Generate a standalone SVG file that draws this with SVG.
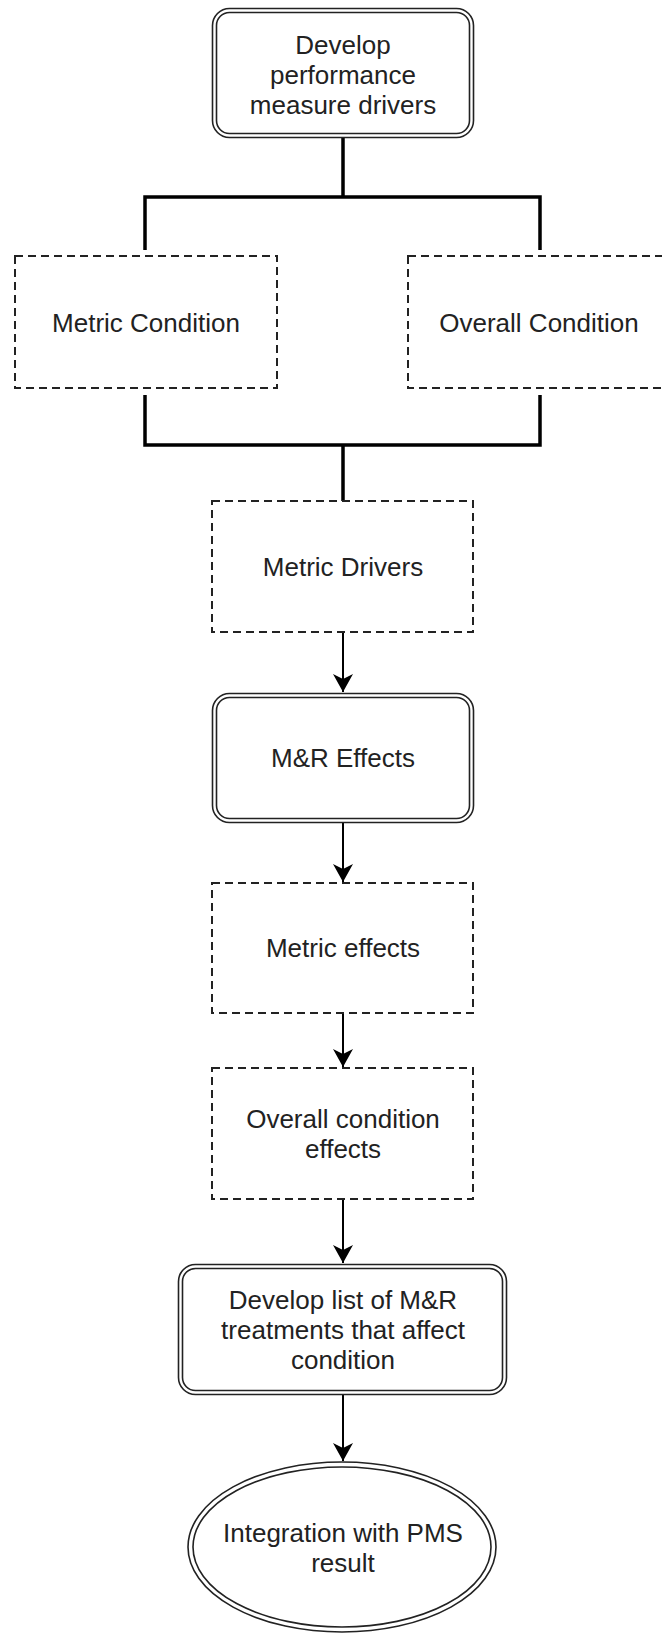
<svg xmlns="http://www.w3.org/2000/svg" width="662" height="1634" viewBox="0 0 662 1634">
<style>
.bg{fill:#ffffff}
.dash{fill:#ffffff;stroke:#222;stroke-width:2;stroke-dasharray:8 5}
.dbl{fill:#ffffff;stroke:#222;stroke-width:1.6}
.dbli{fill:none;stroke:#222;stroke-width:1.6}
.txt{font-family:"Liberation Sans",Arial,sans-serif;font-size:26px;fill:#222;text-anchor:middle}
.thick{fill:none;stroke:#000;stroke-width:3.5}
.arr{fill:none;stroke:#000;stroke-width:2;marker-end:url(#ah)}
</style>
<defs>
<marker id="ah" viewBox="0 0 18 20" markerWidth="18" markerHeight="20" refX="18" refY="10" orient="auto" markerUnits="userSpaceOnUse">
<path d="M0,0 L18,10 L0,20 L5,10 Z" fill="#000"/>
</marker>
</defs>
<rect class="bg" x="0" y="0" width="662" height="1634"/>
<g id="connectors">
<path class="thick" d="M343,138 V197 M145,250 V197 H540 V250"/>
<path class="thick" d="M145,395 V445 H540 V395 M343,445 V501"/>
<path class="arr" d="M343,632 V692"/>
<path class="arr" d="M343,823 V882"/>
<path class="arr" d="M343,1013 V1067"/>
<path class="arr" d="M343,1199 V1263"/>
<path class="arr" d="M343,1395 V1461"/>
</g>
<g id="node-develop-drivers">
<rect class="dbl" x="212.5" y="8.5" width="261" height="129" rx="17"/>
<rect class="dbli" x="216.5" y="12.5" width="253" height="121" rx="13"/>
<text class="txt" x="343" y="54">Develop</text>
<text class="txt" x="343" y="84">performance</text>
<text class="txt" x="343" y="114">measure drivers</text>
</g>
<g id="node-metric-condition">
<rect class="dash" x="15" y="256" width="262" height="132"/>
<text class="txt" x="146" y="332">Metric Condition</text>
</g>
<g id="node-overall-condition">
<rect class="dash" x="408" y="256" width="262" height="132"/>
<text class="txt" x="539" y="332">Overall Condition</text>
</g>
<g id="node-metric-drivers">
<rect class="dash" x="212" y="501" width="261" height="131"/>
<text class="txt" x="343" y="576">Metric Drivers</text>
</g>
<g id="node-mr-effects">
<rect class="dbl" x="212.5" y="693.5" width="261" height="129" rx="17"/>
<rect class="dbli" x="216.5" y="697.5" width="253" height="121" rx="13"/>
<text class="txt" x="343" y="767">M&amp;R Effects</text>
</g>
<g id="node-metric-effects">
<rect class="dash" x="212" y="883" width="261" height="130"/>
<text class="txt" x="343" y="957">Metric effects</text>
</g>
<g id="node-overall-condition-effects">
<rect class="dash" x="212" y="1068" width="261" height="131"/>
<text class="txt" x="343" y="1128">Overall condition</text>
<text class="txt" x="343" y="1158">effects</text>
</g>
<g id="node-develop-list">
<rect class="dbl" x="178.5" y="1264.5" width="328" height="130" rx="17"/>
<rect class="dbli" x="182.5" y="1268.5" width="320" height="122" rx="13"/>
<text class="txt" x="343" y="1309">Develop list of M&amp;R</text>
<text class="txt" x="343" y="1339">treatments that affect</text>
<text class="txt" x="343" y="1369">condition</text>
</g>
<g id="node-integration">
<ellipse class="dbl" cx="342" cy="1547" rx="154" ry="85"/>
<ellipse class="dbli" cx="342" cy="1547" rx="149" ry="80"/>
<text class="txt" x="343" y="1542">Integration with PMS</text>
<text class="txt" x="343" y="1572">result</text>
</g>
</svg>
